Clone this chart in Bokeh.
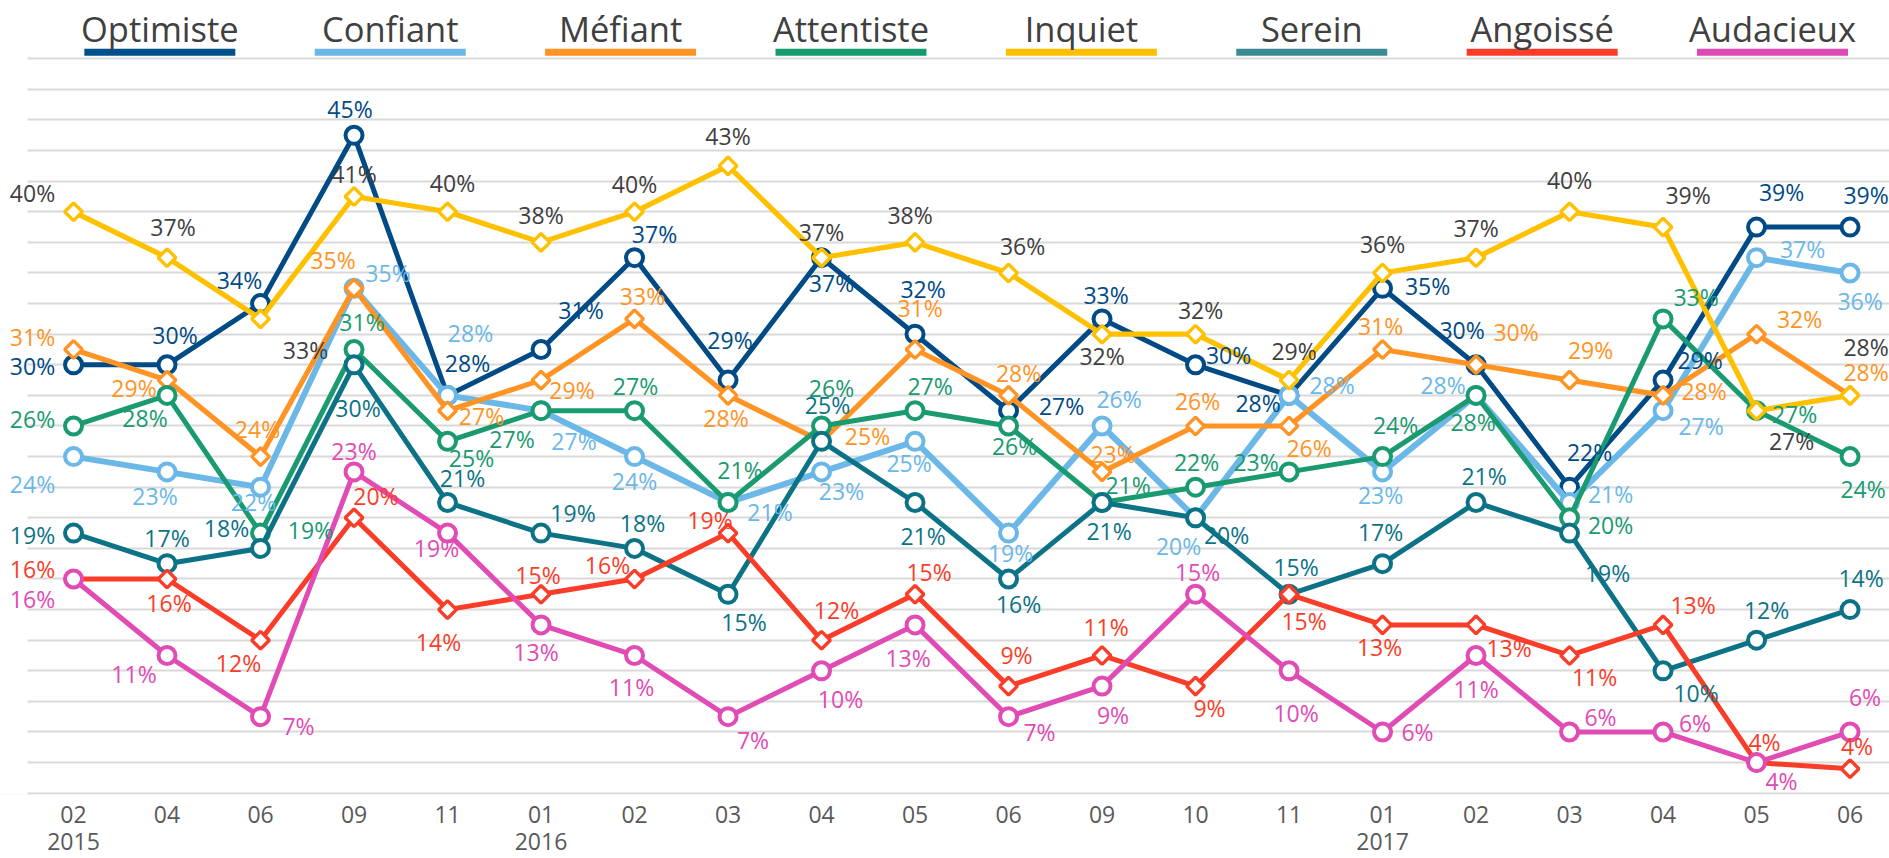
import numpy as np
from bokeh.plotting import figure
from bokeh.models import ColumnDataSource, FixedTicker, Range1d, LabelSet, LinearAxis, BoxAnnotation
from bokeh.core.properties import value
from bokeh.embed import file_html
from bokeh.resources import INLINE

# ---------------- data ----------------
months = ["02", "04", "06", "09", "11", "01", "02", "03", "04", "05",
          "06", "09", "10", "11", "01", "02", "03", "04", "05", "06"]
year_labels = ["2015", "2016", "2017"]
year_index = [0, 5, 14]

names = ["Optimiste", "Confiant", "Méfiant", "Attentiste",
         "Inquiet", "Serein", "Angoissé", "Audacieux"]

optimiste = [30, 30, 34, 45, 28, 31, 37, 29, 37, 32, 27, 33, 30, 28, 35, 30, 22, 29, 39, 39]
confiant = [24, 23, 22, 35, 28, 27, 24, 21, 23, 25, 19, 26, 20, 28, 23, 28, 21, 27, 37, 36]
mefiant = [31, 29, 24, 35, 27, 29, 33, 28, 25, 31, 28, 23, 26, 26, 31, 30, 29, 28, 32, 28]
attentiste = [26, 28, 19, 31, 25, 27, 27, 21, 26, 27, 26, 21, 22, 23, 24, 28, 20, 33, 27, 24]
inquiet = [40, 37, 33, 41, 40, 38, 40, 43, 37, 38, 36, 32, 32, 29, 36, 37, 40, 39, 27, 28]
serein = [19, 17, 18, 30, 21, 19, 18, 15, 25, 21, 16, 21, 20, 15, 17, 21, 19, 10, 12, 14]
angoisse = [16, 16, 12, 20, 14, 15, 16, 19, 12, 15, 9, 11, 9, 15, 13, 13, 11, 13, 4, 3.6]
audacieux = [16, 11, 7, 23, 19, 13, 11, 7, 10, 13, 7, 9, 15, 10, 6, 11, 6, 6, 4, 6]

series_values = [optimiste, confiant, mefiant, attentiste, inquiet, serein, angoisse, audacieux]

# ---------------- styles ----------------
line_colors = ["#004A85", "#6BB7E8", "#FF9425", "#1A9A70",
               "#FFC000", "#0C7387", "#FA3D28", "#E04BB4"]
legend_colors = ["#00508C", "#6BB7E8", "#FF9425", "#169A70",
                 "#FFC000", "#3C8B94", "#FA3D28", "#DE4AB4"]
label_colors = ["#004A85", "#6BB7E8", "#FF9425", "#1A9A70",
                "#404040", "#0C7387", "#FA3D28", "#E04BB4"]
line_widths = [5.0, 6.0, 5.2, 5.0, 5.2, 5.0, 5.0, 5.0]
markers = ["circle", "circle", "diamond", "circle",
           "diamond", "circle", "diamond", "circle"]

# label offsets (dx right, dy down) in pixels, per series per point
offsets = [
    # Optimiste
    [(-41, 1), (8, -30), (-21, -24), (-4, -26), (20, -32), (40, -39), (20, -24), (2, -40),
     (10, 25), (8, -45), (53, -5), (4, -24), (33, -10), (-31, 8), (45, -2), (-14, -35),
     (20, -35), (37, -20), (25, -35), (16, -32)],
    # Confiant
    [(-41, 27), (-12, 24), (-7, 15), (34, -15), (23, -62), (33, 30), (0, 24), (42, 10),
     (20, 19), (-6, 22), (2, 20), (17, -27), (-17, 28), (43, -10), (-2, 23), (-33, -10),
     (41, -8), (38, 15), (46, -9), (10, 28)],
    # Méfiant
    [(-41, -12), (-33, 8), (-3, -28), (-21, -28), (34, 5), (31, 10), (8, -23), (-2, 23),
     (46, -5), (5, -41), (10, -22), (11, -18), (2, -25), (20, 22), (-2, -23), (40, -33),
     (21, -30), (41, -4), (43, -15), (16, -23)],
    # Attentiste
    [(-41, -7), (-22, 23), (50, -3), (8, -27), (24, 17), (-29, 28), (1, -25), (12, -32),
     (10, -38), (15, -25), (6, 20), (26, -17), (1, -25), (-33, -10), (13, -32), (-3, 27),
     (41, 7), (33, -22), (38, 3), (13, 32)],
    # Inquiet
    [(-41, -19), (6, -31), (45, 31), (0, -22), (5, -29), (0, -27), (0, -28), (0, -30),
     (0, -26), (-5, -27), (14, -27), (0, 22), (5, -24), (5, -29), (0, -29), (0, -30),
     (0, -32), (25, -32), (35, 30), (16, -48)],
    # Serein
    [(-41, 2), (0, -26), (-34, -20), (4, 43), (15, -24), (32, -20), (8, -25), (16, 28),
     (6, -36), (8, 34), (10, 25), (7, 29), (31, 17), (7, -27), (-2, -32), (8, -26),
     (38, 40), (33, 22), (10, -30), (11, -32)],
    # Angoissé
    [(-41, -10), (2, 24), (-22, 23), (22, -22), (-9, 32), (-3, -19), (-27, -14), (-18, -13),
     (15, -30), (14, -22), (8, -31), (4, -28), (14, 22), (15, 27), (-3, 22), (33, 23),
     (25, 22), (30, -20), (8, -21), (7, -23)],
    # Audacieux
    [(-41, 20), (-33, 19), (38, 9), (0, -21), (-11, 15), (-5, 27), (-3, 32), (25, 23),
     (19, 28), (-7, 33), (31, 15), (11, 29), (2, -22), (7, 42), (35, 0), (0, 34),
     (31, -15), (32, -9), (25, 18), (15, -35)],
]

FONT = "Open Sans"
Y0, Y1 = 1.915, 53.81
X0, X1 = -0.781, 19.422
GRID_START = -0.492

# ---------------- figure ----------------
W, H = 1889, 858
p = figure(width=W, height=H, output_backend="svg", toolbar_location=None,
           x_range=Range1d(X0, X1), y_range=Range1d(Y0, Y1),
           y_axis_location=None,
           min_border_left=0, min_border_right=0, min_border_top=0,
           min_border_bottom=64)
p.outline_line_color = None
p.background_fill_color = "white"
p.border_fill_color = "white"

p.xgrid.visible = False
p.ygrid.ticker = FixedTicker(ticks=list(range(2, 51, 2)))
p.ygrid.grid_line_color = "#D9D9D9"
p.ygrid.grid_line_width = 2
# gridlines start a little right of the left edge
p.add_layout(BoxAnnotation(right=GRID_START, fill_color="white", fill_alpha=1.0,
                           line_color=None, level="underlay"))

xs = list(range(len(months)))

ax = p.xaxis[0]
ax.ticker = FixedTicker(ticks=xs)
ax.major_label_overrides = {i: m for i, m in enumerate(months)}
ax.axis_line_color = None
ax.major_tick_line_color = None
ax.minor_tick_line_color = None
ax.major_label_standoff = 5
ax.major_label_text_font = FONT
ax.major_label_text_font_size = "23px"
ax.major_label_text_color = "#595959"

yax = LinearAxis(ticker=FixedTicker(ticks=year_index),
                 major_label_overrides={i: y for i, y in zip(year_index, year_labels)})
yax.axis_line_color = None
yax.major_tick_line_color = None
yax.minor_tick_line_color = None
yax.major_label_standoff = 1
yax.major_label_text_font = FONT
yax.major_label_text_font_size = "23px"
yax.major_label_text_color = "#595959"
p.add_layout(yax, "below")

# ---------------- legend (text above a coloured bar) ----------------
leg_x = [0.923 + 2.464 * k for k in range(len(names))]
leg_src = ColumnDataSource(dict(x=leg_x, name=names, color=legend_colors))
p.rect(x="x", y=50.43, width=1.615, height=7, height_units="screen",
       fill_color="color", line_color=None, source=leg_src)
p.text(x="x", y=51.95, text="name", source=leg_src, text_align="center",
       text_baseline="middle", text_font=value(FONT),
       text_font_size=value("34.5px"), text_color="#404040")

# ---------------- series ----------------
for k, vals in enumerate(series_values):
    src = ColumnDataSource(dict(x=xs, y=vals))
    p.line("x", "y", source=src, line_color=line_colors[k], line_width=line_widths[k],
           line_join="round")
    if markers[k] == "circle":
        p.scatter("x", "y", source=src, marker="circle", size=17,
                  fill_color="white", line_color=line_colors[k], line_width=4)
    else:
        p.scatter("x", "y", source=src, marker="square", angle=np.pi / 4, size=12.5,
                  fill_color="white", line_color=line_colors[k], line_width=3.4)

for k, vals in enumerate(series_values):
    dx = [o[0] for o in offsets[k]]
    dy = [-o[1] for o in offsets[k]]
    lab = ["%d%%" % int(round(v)) for v in vals]
    src = ColumnDataSource(dict(x=xs, y=vals, t=lab, dx=dx, dy=dy))
    p.add_layout(LabelSet(x="x", y="y", text="t", x_offset="dx", y_offset="dy",
                          source=src, text_align="center", text_baseline="middle",
                          text_font=value(FONT), text_font_size=value("23px"),
                          text_color=label_colors[k]))

open("out.html", "w").write(file_html(p, INLINE))
